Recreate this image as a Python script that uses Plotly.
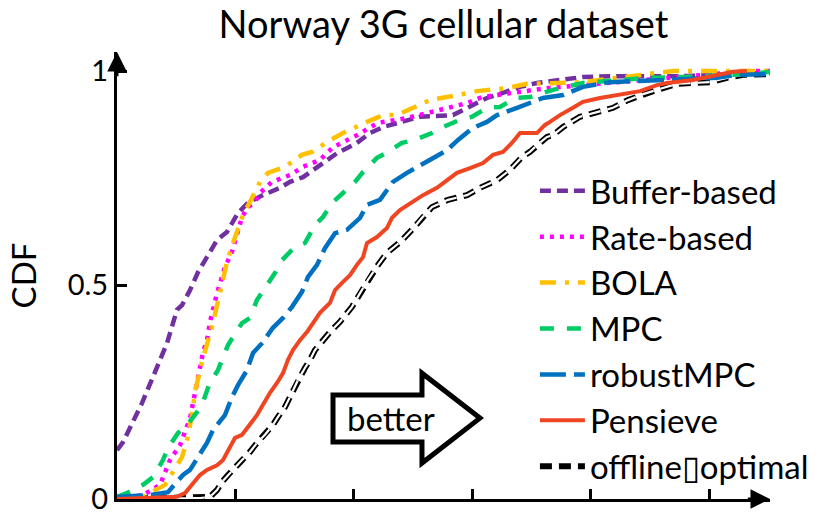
import plotly.graph_objects as go

# ---- data (x in axis units: one tick = 1; y = CDF) ----
bb_x = [0, 0.051, 0.211, 0.388, 0.422, 0.506, 0.549, 0.616, 0.684, 0.759, 0.844, 0.928, 1.021, 1.105, 1.232, 1.376, 1.460, 1.570, 1.654, 1.772, 1.857, 2.025, 2.135, 2.245, 2.388, 2.557, 2.835, 2.979, 3.122, 3.257, 3.401, 3.544, 3.713, 3.932, 4.219, 4.776, 5.063, 5.511]
bb_y = [0.114, 0.133, 0.224, 0.341, 0.364, 0.442, 0.453, 0.488, 0.530, 0.565, 0.605, 0.624, 0.668, 0.692, 0.710, 0.727, 0.741, 0.752, 0.769, 0.792, 0.808, 0.832, 0.855, 0.869, 0.879, 0.893, 0.897, 0.916, 0.937, 0.949, 0.963, 0.972, 0.979, 0.986, 0.988, 0.988, 0.991, 0.995]

rb_x = [0, 0.093, 0.219, 0.363, 0.447, 0.532, 0.616, 0.675, 0.726, 0.759, 0.785, 0.844, 0.911, 0.970, 1.013, 1.055, 1.105, 1.165, 1.207, 1.308, 1.460, 1.570, 1.713, 1.823, 2.025, 2.203, 2.447, 2.726, 2.954, 3.080, 3.316, 3.629, 4.059, 4.895, 5.342, 5.511]
rb_y = [0, 0.005, 0.009, 0.033, 0.091, 0.126, 0.189, 0.271, 0.343, 0.371, 0.414, 0.481, 0.542, 0.577, 0.621, 0.659, 0.682, 0.694, 0.715, 0.741, 0.757, 0.776, 0.792, 0.822, 0.850, 0.879, 0.890, 0.909, 0.925, 0.939, 0.949, 0.960, 0.970, 0.991, 1.0, 1.0]

bola_x = [0, 0.219, 0.405, 0.489, 0.549, 0.591, 0.633, 0.658, 0.684, 0.717, 0.810, 0.869, 0.928, 0.979, 1.063, 1.139, 1.207, 1.274, 1.418, 1.561, 1.646, 1.772, 1.907, 2.110, 2.245, 2.363, 2.489, 2.641, 2.878, 3.038, 3.291, 3.460, 3.932, 4.692, 4.962, 5.511]
bola_y = [0, 0.005, 0.033, 0.072, 0.098, 0.138, 0.196, 0.250, 0.285, 0.320, 0.411, 0.481, 0.554, 0.598, 0.664, 0.703, 0.741, 0.762, 0.776, 0.804, 0.811, 0.834, 0.855, 0.881, 0.897, 0.897, 0.914, 0.932, 0.944, 0.953, 0.960, 0.970, 0.974, 1.0, 1.0, 1.0]

mpc_x = [0, 0.084, 0.219, 0.304, 0.388, 0.430, 0.515, 0.591, 0.675, 0.726, 0.785, 0.852, 0.937, 1.055, 1.122, 1.181, 1.249, 1.333, 1.392, 1.502, 1.586, 1.671, 1.738, 1.823, 1.907, 2.008, 2.076, 2.194, 2.287, 2.405, 2.515, 2.658, 2.751, 2.895, 2.996, 3.122, 3.232, 3.359, 3.485, 3.679, 3.932, 4.473, 4.776, 5.342, 5.511]
mpc_y = [0.005, 0.014, 0.033, 0.051, 0.091, 0.119, 0.154, 0.173, 0.203, 0.227, 0.273, 0.301, 0.360, 0.411, 0.423, 0.465, 0.493, 0.528, 0.558, 0.589, 0.598, 0.640, 0.659, 0.694, 0.715, 0.741, 0.764, 0.797, 0.811, 0.832, 0.839, 0.855, 0.869, 0.886, 0.893, 0.914, 0.916, 0.937, 0.939, 0.956, 0.972, 0.984, 0.986, 0.993, 0.998]

rmpc_x = [0, 0.278, 0.430, 0.506, 0.557, 0.616, 0.684, 0.759, 0.810, 0.911, 0.970, 1.021, 1.097, 1.148, 1.224, 1.316, 1.401, 1.477, 1.561, 1.612, 1.688, 1.755, 1.840, 1.941, 2.051, 2.110, 2.219, 2.329, 2.447, 2.540, 2.667, 2.785, 2.878, 3.004, 3.122, 3.207, 3.376, 3.485, 3.595, 3.764, 3.932, 4.160, 4.582, 5.063, 5.232, 5.511]
rmpc_y = [0.005, 0.009, 0.016, 0.040, 0.056, 0.068, 0.098, 0.131, 0.161, 0.196, 0.238, 0.266, 0.301, 0.341, 0.364, 0.400, 0.423, 0.449, 0.484, 0.519, 0.547, 0.586, 0.621, 0.629, 0.657, 0.687, 0.699, 0.741, 0.762, 0.776, 0.797, 0.815, 0.839, 0.867, 0.881, 0.897, 0.914, 0.925, 0.937, 0.944, 0.963, 0.974, 0.979, 0.984, 0.991, 0.993]

pen_x = [0, 0.253, 0.506, 0.574, 0.616, 0.658, 0.700, 0.759, 0.844, 0.895, 0.954, 0.996, 1.055, 1.105, 1.181, 1.232, 1.291, 1.350, 1.401, 1.443, 1.485, 1.544, 1.603, 1.654, 1.713, 1.797, 1.840, 1.899, 1.966, 2.025, 2.076, 2.110, 2.194, 2.278, 2.321, 2.388, 2.489, 2.582, 2.700, 2.785, 2.869, 2.979, 3.089, 3.173, 3.257, 3.333, 3.401, 3.544, 3.612, 3.654, 3.738, 3.848, 3.932, 4.076, 4.219, 4.414, 4.557, 4.641, 4.861, 5.063, 5.198, 5.316]
pen_y = [0, 0.002, 0.005, 0.014, 0.028, 0.040, 0.056, 0.068, 0.079, 0.091, 0.121, 0.143, 0.150, 0.168, 0.196, 0.220, 0.248, 0.271, 0.294, 0.325, 0.348, 0.371, 0.390, 0.411, 0.435, 0.458, 0.488, 0.505, 0.523, 0.547, 0.565, 0.598, 0.612, 0.633, 0.657, 0.675, 0.692, 0.710, 0.727, 0.745, 0.762, 0.773, 0.785, 0.804, 0.811, 0.832, 0.855, 0.855, 0.874, 0.881, 0.897, 0.914, 0.928, 0.937, 0.944, 0.953, 0.967, 0.972, 0.979, 0.991, 0.998, 1.0]

opt_x = [0, 0.700, 0.785, 0.844, 0.886, 0.937, 0.996, 1.055, 1.122, 1.181, 1.249, 1.316, 1.359, 1.418, 1.477, 1.527, 1.586, 1.629, 1.671, 1.797, 1.882, 1.983, 2.051, 2.118, 2.203, 2.278, 2.388, 2.489, 2.574, 2.658, 2.793, 2.954, 3.063, 3.207, 3.316, 3.418, 3.485, 3.544, 3.629, 3.679, 3.764, 3.907, 4.051, 4.186, 4.312, 4.439, 4.557, 4.726, 5.004, 5.148, 5.283, 5.511]
opt_y = [0, 0.002, 0.005, 0.021, 0.040, 0.056, 0.072, 0.091, 0.110, 0.131, 0.150, 0.173, 0.192, 0.215, 0.248, 0.278, 0.306, 0.325, 0.348, 0.390, 0.414, 0.449, 0.481, 0.512, 0.547, 0.575, 0.600, 0.629, 0.657, 0.682, 0.699, 0.710, 0.727, 0.745, 0.769, 0.799, 0.811, 0.827, 0.846, 0.850, 0.869, 0.893, 0.904, 0.914, 0.932, 0.946, 0.956, 0.970, 0.974, 0.984, 0.991, 0.993]

y_ticks = [0, 0.5, 1]
y_tick_text = ["0", "0.5", "1"]
x_ticks = [1, 2, 3, 4, 5]
X_MAX = 5.511
Y_MAX = 1.0444

FONT = "Lato, Carlito, 'Open Sans', sans-serif"

fig = go.Figure()

series = [
    ("Buffer-based", bb_x, bb_y, "#7030A0", "11px,6px", 4.5),
    ("Rate-based", rb_x, rb_y, "#FF00FF", "4px,6px", 4.5),
    ("BOLA", bola_x, bola_y, "#FFC000", "16px,9px,4px,9px", 4.5),
    ("MPC", mpc_x, mpc_y, "#00CC66", "14px,13px", 4.5),
    ("robustMPC", rmpc_x, rmpc_y, "#0070C0", "26px,8px", 4.5),
    ("Pensieve", pen_x, pen_y, "#F04523", "solid", 4),
]

# offline optimal drawn as an outlined (black + white) dashed line
fig.add_trace(go.Scatter(x=opt_x, y=opt_y, mode="lines", name="offline\u25AFoptimal",
                         line=dict(color="black", width=6, dash="12px,7px"),
                         legendrank=7))
fig.add_trace(go.Scatter(x=opt_x, y=opt_y, mode="lines", showlegend=False,
                         line=dict(color="white", width=2.2, dash="12px,7px"),
                         hoverinfo="skip"))

for i, (name, xs, ys, col, dash, w) in enumerate(series):
    fig.add_trace(go.Scatter(x=xs, y=ys, mode="lines", name=name,
                             line=dict(color=col, width=w, dash=dash),
                             legendrank=i + 1))

# axis arrowheads
fig.add_annotation(x=X_MAX, y=0, ax=X_MAX - 0.2, ay=0, xref="x", yref="y",
                   axref="x", ayref="y", showarrow=True, arrowhead=2,
                   arrowsize=1.3, arrowwidth=3, arrowcolor="black", text="",
                   standoff=0, startstandoff=0)
fig.add_annotation(x=0, y=Y_MAX, ax=0, ay=Y_MAX - 0.06, xref="x", yref="y",
                   axref="x", ayref="y", showarrow=True, arrowhead=2,
                   arrowsize=1.3, arrowwidth=3, arrowcolor="black", text="",
                   standoff=0, startstandoff=0)

# "better" block arrow
fig.add_shape(type="path",
              path="M 1.823,0.133 L 2.574,0.133 L 2.574,0.084 L 3.063,0.189 "
                   "L 2.574,0.294 L 2.574,0.243 L 1.823,0.243 Z",
              xref="x", yref="y", line=dict(color="black", width=5),
              fillcolor="white", layer="above")
fig.add_annotation(x=2.31, y=0.189, xref="x", yref="y", text="better",
                   showarrow=False, font=dict(size=33, color="black", family=FONT))

fig.update_layout(
    width=818, height=516,
    margin=dict(l=117, r=48, t=52, b=17, autoexpand=False),
    paper_bgcolor="white", plot_bgcolor="white",
    font=dict(family=FONT, color="black"),
    title=dict(text="Norway 3G cellular dataset", x=(117 + 770) / 2 / 818,
               xanchor="center", y=0.952, yanchor="middle",
               font=dict(size=38, family=FONT, color="black")),
    showlegend=True,
    legend=dict(x=0.64, y=0.752, xanchor="left", yanchor="top",
                bgcolor="rgba(0,0,0,0)", font=dict(size=33, family=FONT),
                itemwidth=45, traceorder="normal", tracegroupgap=0),
    xaxis=dict(range=[0, X_MAX], showgrid=False, zeroline=False,
               showline=True, linecolor="black", linewidth=3,
               ticks="inside", tickvals=x_ticks, ticklen=10, tickwidth=3,
               tickcolor="black", showticklabels=False, fixedrange=True),
    yaxis=dict(range=[0, Y_MAX], showgrid=False, zeroline=False,
               showline=True, linecolor="black", linewidth=3,
               ticks="inside", tickvals=y_ticks, ticktext=y_tick_text,
               ticklen=10, tickwidth=3, tickcolor="black",
               tickfont=dict(size=29, family=FONT),
               title=dict(text="CDF", font=dict(size=33, family=FONT), standoff=22),
               fixedrange=True),
)

fig.write_html("out.html")
